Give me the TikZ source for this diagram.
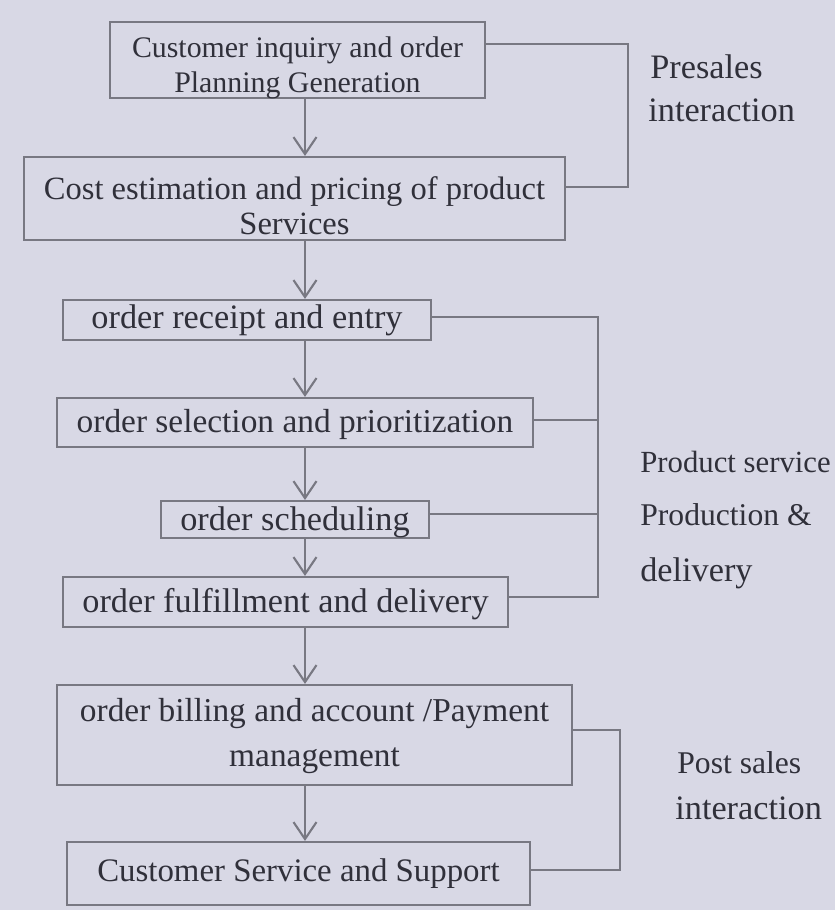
\documentclass[tikz,border=0pt]{standalone}
\usepackage{fontspec}
\setmainfont{Liberation Serif}
\usetikzlibrary{arrows.meta,calc}
\definecolor{paper}{RGB}{216,216,229}
\definecolor{pencil}{RGB}{120,120,130}
\definecolor{ink}{RGB}{48,48,58}
% text block of a stage, drawn #1 lower than its box centre
\newcommand\stagetext[2]{\raisebox{-#1}[\height][\depth]{\begin{tabular}{@{}c@{}}#2\end{tabular}}}
\begin{document}
\begin{tikzpicture}[x=0.02cm,y=-0.02cm,
  stage/.style={draw=pencil, line width=1.2pt, inner sep=0pt, align=center,
    text=ink, font=\fontsize{19.5}{21}\selectfont},
  flow/.style={draw=pencil, line width=1.2pt,
    -{Straight Barb[length=3.4mm,width=4.6mm,line width=1.2pt]}},
  link/.style={draw=pencil, line width=1.2pt},
  note/.style={text=ink, anchor=west, align=left, inner sep=0pt,
    font=\fontsize{18}{21}\selectfont}]
% sheet
\fill[paper] (0,0) rectangle (835,910);
\useasboundingbox (0,0) rectangle (835,910);

% stages of the order cycle
\node[stage, minimum width=7.5cm, minimum height=1.52cm,
  font=\fontsize{17}{20}\selectfont] (b1) at (297.5,60)
  {\stagetext{4.5pt}{Customer inquiry and order\\Planning Generation}};
\node[stage, minimum width=10.82cm, minimum height=1.66cm,
  font=\fontsize{18.5}{20}\selectfont] (b2) at (294.5,198.5)
  {\stagetext{6.5pt}{Cost estimation and pricing of product\\Services}};
\node[stage, minimum width=7.36cm, minimum height=0.8cm] (b3) at (247,320)
  {order receipt and entry};
\node[stage, minimum width=9.52cm, minimum height=0.98cm,
  font=\fontsize{19}{21}\selectfont] (b4) at (295,422.5)
  {\stagetext{1.5pt}{order selection and prioritization}};
\node[stage, minimum width=5.36cm, minimum height=0.7cm] (b5) at (295,519.5)
  {\stagetext{2pt}{order scheduling}};
\node[stage, minimum width=8.9cm, minimum height=1.0cm] (b6) at (285.5,602)
  {\stagetext{2pt}{order fulfillment and delivery}};
\node[stage, minimum width=10.3cm, minimum height=2.0cm,
  font=\fontsize{19}{26}\selectfont] (b7) at (314.5,735)
  {\stagetext{0pt}{order billing and account /Payment\\management}};
\node[stage, minimum width=9.26cm, minimum height=1.26cm,
  font=\fontsize{18.7}{21}\selectfont] (b8) at (298.5,873.5)
  {Customer Service and Support};

% main flow
\coordinate (ax) at (305,0);
\draw[flow] (b1.south -| ax) -- (b2.north -| ax);
\draw[flow] (b2.south -| ax) -- (b3.north -| ax);
\draw[flow] (b3.south -| ax) -- (b4.north -| ax);
\draw[flow] (b4.south -| ax) -- (b5.north -| ax);
\draw[flow] (b5.south -| ax) -- (b6.north -| ax);
\draw[flow] (b6.south -| ax) -- (b7.north -| ax);
\draw[flow] (b7.south -| ax) -- (b8.north -| ax);

% presales bracket
\coordinate (pre) at (628,120);
\draw[link] ($(b1.north east)!0.3!(b1.south east)$) -| (pre)
  |- ($(b2.north east)!0.36!(b2.south east)$);
\node[note, font=\fontsize{19.5}{21}\selectfont] (l1) at (650,67) {Presales};
\node[note, font=\fontsize{19.5}{21}\selectfont] (l2) at (648,110) {interaction};

% production and delivery bracket
\coordinate (bus) at (598,450);
\coordinate (c3) at ($(b3.north east)!0.42!(b3.south east)$);
\coordinate (c4) at ($(b4.north east)!0.45!(b4.south east)$);
\coordinate (c5) at ($(b5.north east)!0.37!(b5.south east)$);
\coordinate (c6) at ($(b6.north east)!0.4!(b6.south east)$);
\draw[link] (c3) -| (bus) |- (c6);
\draw[link] (c4) -- (c4 -| bus);
\draw[link] (c5) -- (c5 -| bus);
\node[note, font=\fontsize{17.5}{21}\selectfont] (l3) at (640,462) {Product service};
\node[note] (l4) at (640,515) {Production \&};
\node[note, font=\fontsize{19.5}{21}\selectfont] (l5) at (640,573) {delivery};

% post-sales bracket
\coordinate (post) at (620,800);
\draw[link] ($(b7.north east)!0.45!(b7.south east)$) -| (post)
  |- ($(b8.north east)!0.45!(b8.south east)$);
\node[note] (l6) at (677,763) {Post sales};
\node[note, font=\fontsize{19.5}{21}\selectfont] (l7) at (675,808) {interaction};
\end{tikzpicture}
\end{document}
